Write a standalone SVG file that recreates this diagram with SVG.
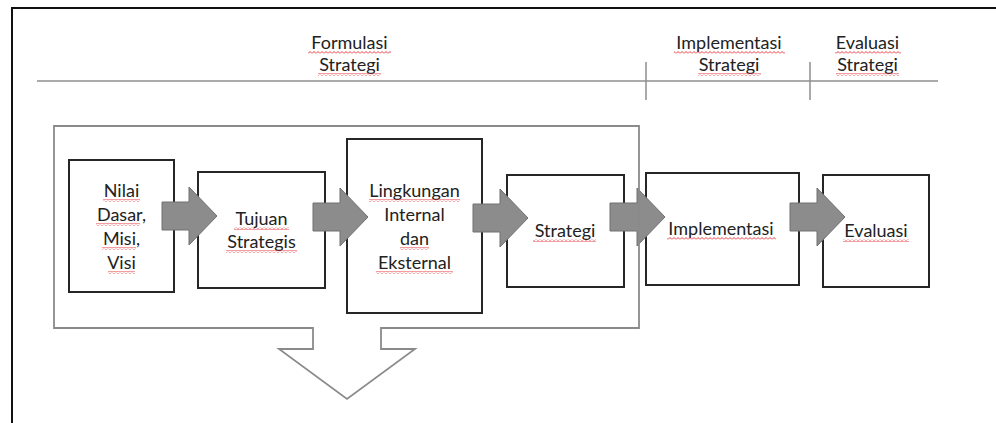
<svg xmlns="http://www.w3.org/2000/svg" xmlns:xlink="http://www.w3.org/1999/xlink" width="996" height="423" viewBox="0 0 996 423">
  <style>
    .t { font-family: Lato, "Liberation Sans", sans-serif; font-size: 18px; fill: #222; text-anchor: middle; }
    .box { fill: #fff; stroke: #262626; stroke-width: 2; }
    .arr { fill: #8c8c8c; stroke: #707070; stroke-width: 1; }
    .sq { fill: url(#squig); }
  </style>
  <defs>
    <pattern id="squig" patternUnits="userSpaceOnUse" width="4" height="3">
      <path d="M0,2.5 L2,0.5 L4,2.5" fill="none" stroke="#e8262d" stroke-width="0.9"/>
    </pattern>
    <path id="blockArrow" d="M0,-14 L27,-14 L27,-29 L55,0 L27,29 L27,14 L0,14 Z"/>
  </defs>
  <rect x="0" y="0" width="996" height="423" fill="#fff"/>

  <g id="page-border" fill="none" stroke="#111" stroke-width="2">
    <path d="M12,423 L12,8 L996,8"/>
  </g>

  <g id="header">
    <line x1="37" y1="81" x2="938" y2="81" stroke="#8e8e8e" stroke-width="1.5"/>
    <line x1="646" y1="62" x2="646" y2="100" stroke="#8e8e8e" stroke-width="1.5"/>
    <line x1="810" y1="62" x2="810" y2="100" stroke="#8e8e8e" stroke-width="1.5"/>
    <g id="hdr-formulasi">
      <text class="t" x="349.5" y="49">Formulasi</text>
      <text class="t" x="349.5" y="71">Strategi</text>
      <rect class="sq" x="308" y="51" width="83" height="3"/>
      <rect class="sq" x="318" y="73" width="63" height="3"/>
    </g>
    <g id="hdr-implementasi">
      <text class="t" x="729" y="49">Implementasi</text>
      <text class="t" x="729" y="71">Strategi</text>
      <rect class="sq" x="674" y="51" width="111" height="3"/>
      <rect class="sq" x="698" y="73" width="63" height="3"/>
    </g>
    <g id="hdr-evaluasi">
      <text class="t" x="867.5" y="49">Evaluasi</text>
      <text class="t" x="867.5" y="71">Strategi</text>
      <rect class="sq" x="835" y="51" width="66" height="3"/>
      <rect class="sq" x="836" y="73" width="63" height="3"/>
    </g>
  </g>

  <g id="node-nilai">
    <rect class="box" x="69" y="160" width="105" height="132"/>
    <text class="t" x="121.5" y="197">Nilai</text>
    <text class="t" x="121.5" y="221">Dasar,</text>
    <text class="t" x="121.5" y="245">Misi,</text>
    <text class="t" x="121.5" y="269">Visi</text>
    <rect class="sq" x="103" y="199" width="37" height="3"/>
    <rect class="sq" x="96" y="223" width="44" height="3"/>
    <rect class="sq" x="102" y="247" width="34" height="3"/>
    <rect class="sq" x="108" y="271" width="27" height="3"/>
  </g>

  <g id="node-tujuan">
    <rect class="box" x="198" y="172" width="127" height="116"/>
    <text class="t" x="261.5" y="225">Tujuan</text>
    <text class="t" x="261.5" y="248">Strategis</text>
    <rect class="sq" x="234" y="227" width="55" height="3"/>
    <rect class="sq" x="226" y="250" width="71" height="3"/>
  </g>

  <g id="node-lingkungan">
    <rect class="box" x="347" y="139" width="135" height="174"/>
    <text class="t" x="414.5" y="197">Lingkungan</text>
    <text class="t" x="414.5" y="221">Internal</text>
    <text class="t" x="414.5" y="245">dan</text>
    <text class="t" x="414.5" y="269">Eksternal</text>
    <rect class="sq" x="369" y="199" width="91" height="3"/>
    <rect class="sq" x="400" y="247" width="29" height="3"/>
    <rect class="sq" x="376" y="271" width="77" height="3"/>
  </g>

  <g id="node-strategi">
    <rect class="box" x="507" y="175" width="117" height="112"/>
    <text class="t" x="565" y="237">Strategi</text>
    <rect class="sq" x="533" y="239" width="63" height="3"/>
  </g>

  <g id="node-implementasi">
    <rect class="box" x="646" y="173" width="153" height="112"/>
    <text class="t" x="721" y="235">Implementasi</text>
    <rect class="sq" x="667" y="237" width="109" height="3"/>
  </g>

  <g id="node-evaluasi">
    <rect class="box" x="823" y="175" width="106" height="112"/>
    <text class="t" x="876" y="237">Evaluasi</text>
    <rect class="sq" x="843" y="239" width="66" height="3"/>
  </g>

  <g id="connectors">
    <use xlink:href="#blockArrow" href="#blockArrow" class="arr" transform="translate(162,216)"/>
    <use xlink:href="#blockArrow" href="#blockArrow" class="arr" transform="translate(313,217)"/>
    <use xlink:href="#blockArrow" href="#blockArrow" class="arr" transform="translate(473,218)"/>
    <use xlink:href="#blockArrow" href="#blockArrow" class="arr" transform="translate(610,217)"/>
    <use xlink:href="#blockArrow" href="#blockArrow" class="arr" transform="translate(790,217)"/>
  </g>

  <g id="formulation-frame">
    <path d="M54,126 L639,126 L639,328 L381,328 L381,349 L415,349 L347,399 L279,349 L313,349 L313,328 L54,328 Z" fill="none" stroke="#8a8a8a" stroke-width="1.8" stroke-linejoin="miter"/>
  </g>
</svg>
